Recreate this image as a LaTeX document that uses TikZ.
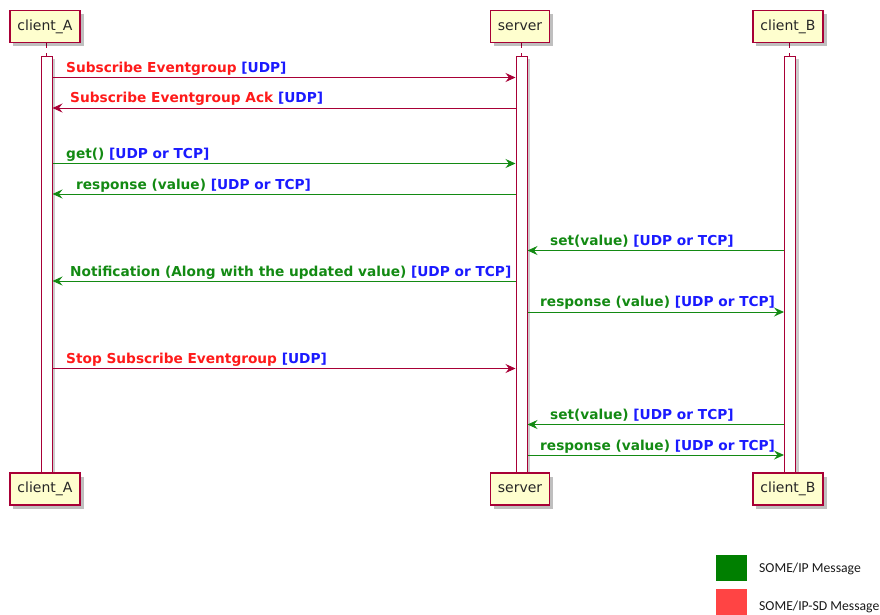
\documentclass[tikz,border=0pt]{standalone}
\usepackage{fontspec}
\setmainfont{DejaVu Sans}
\newfontfamily\legendfont{Carlito}
\usetikzlibrary{arrows.meta,shadows}
\definecolor{plborder}{HTML}{A80036}
\definecolor{plfill}{HTML}{FEFECE}
\definecolor{sdred}{HTML}{FF1A1A}
\definecolor{ipgreen}{HTML}{138A13}
\definecolor{protoblue}{HTML}{1A1AFF}
\definecolor{legendgreen}{HTML}{007F00}
\definecolor{legendred}{HTML}{FF4444}
\tikzset{
  participant/.style={draw=plborder, line width=1.3pt, fill=plfill, rectangle,
    minimum height=32pt, inner xsep=7.5pt, inner ysep=0pt,
    font=\fontsize{14pt}{16pt}\selectfont, text=black!85,
    drop shadow={shadow xshift=3.5pt, shadow yshift=-3.5pt, fill=black, opacity=0.25}},
  actbar/.style={draw=plborder, line width=1pt, fill=white, rectangle,
    minimum width=11pt, minimum height=417pt, inner sep=0pt, anchor=north,
    drop shadow={shadow xshift=3pt, shadow yshift=-3pt, fill=black, opacity=0.2}},
  lifeline/.style={draw=plborder, line width=0.8pt, dash pattern=on 5pt off 5pt},
  msgtip/.style={-{Stealth[length=10pt, width=9pt, inset=3.5pt]}},
  sdmsg/.style={draw=plborder, line width=1pt, msgtip},
  ipmsg/.style={draw=ipgreen, line width=1pt, msgtip},
  msglabel/.style={anchor=base west, inner sep=0pt, font=\fontsize{13.7pt}{15pt}\selectfont\bfseries},
  legendbox/.style={rectangle, minimum width=31pt, minimum height=26pt, inner sep=0pt, anchor=north west},
  legendtext/.style={anchor=base west, inner sep=0pt, font=\legendfont\fontsize{13.7pt}{15pt}\selectfont, text=black!90}
}
\newcommand{\sdtxt}[2]{\textcolor{sdred}{#1} \textcolor{protoblue}{#2}}
\newcommand{\iptxt}[2]{\textcolor{ipgreen}{#1} \textcolor{protoblue}{#2}}
\begin{document}
\begin{tikzpicture}[x=1pt, y=-1pt]
\useasboundingbox (0,0) rectangle (880,614);

% lifelines
\draw[lifeline] (46,43) -- (46,474);
\draw[lifeline] (521.5,43) -- (521.5,474);
\draw[lifeline] (789.5,43) -- (789.5,474);

% activation bars
\node[actbar] (barA) at (46.5,55.5) {};
\node[actbar] (barS) at (521.5,55.5) {};
\node[actbar] (barB) at (790,55.5) {};

% participants, top and bottom
\node[participant] (topA) at (45,26.5) {client\_A};
\node[participant] (topS) at (520,26.5) {server};
\node[participant] (topB) at (788,26.5) {client\_B};
\node[participant] (botA) at (45,489) {client\_A};
\node[participant] (botS) at (520,489) {server};
\node[participant] (botB) at (788,489) {client\_B};

% messages
\draw[sdmsg] (barA.east |- 0,77.5) -- (barS.west |- 0,77.5);
\node[msglabel] (m1) at (66,72.5) {\sdtxt{Subscribe Eventgroup}{[UDP]}};

\draw[sdmsg] (barS.west |- 0,108) -- (barA.east |- 0,108);
\node[msglabel] (m2) at (70,102.5) {\sdtxt{Subscribe Eventgroup Ack}{[UDP]}};

\draw[ipmsg] (barA.east |- 0,163.5) -- (barS.west |- 0,163.5);
\node[msglabel] (m3) at (66,158.5) {\iptxt{get()}{[UDP or TCP]}};

\draw[ipmsg] (barS.west |- 0,194) -- (barA.east |- 0,194);
\node[msglabel] (m4) at (76,189) {\iptxt{response (value)}{[UDP or TCP]}};

\draw[ipmsg] (barB.west |- 0,250.5) -- (barS.east |- 0,250.5);
\node[msglabel] (m5) at (550,245) {\iptxt{set(value)}{[UDP or TCP]}};

\draw[ipmsg] (barS.west |- 0,281) -- (barA.east |- 0,281);
\node[msglabel] (m6) at (70,276) {\iptxt{Notification (Along with the updated value)}{[UDP or TCP]}};

\draw[ipmsg] (barS.east |- 0,312) -- (barB.west |- 0,312);
\node[msglabel] (m7) at (540,306.5) {\iptxt{response (value)}{[UDP or TCP]}};

\draw[sdmsg] (barA.east |- 0,368.5) -- (barS.west |- 0,368.5);
\node[msglabel] (m8) at (66,363) {\sdtxt{Stop Subscribe Eventgroup}{[UDP]}};

\draw[ipmsg] (barB.west |- 0,424.5) -- (barS.east |- 0,424.5);
\node[msglabel] (m9) at (550,419) {\iptxt{set(value)}{[UDP or TCP]}};

\draw[ipmsg] (barS.east |- 0,455) -- (barB.west |- 0,455);
\node[msglabel] (m10) at (540,450) {\iptxt{response (value)}{[UDP or TCP]}};

% legend
\node[legendbox, fill=legendgreen] (lgIP) at (716,555) {};
\node[legendtext] (lgIPt) at (759,572) {SOME/IP Message};
\node[legendbox, fill=legendred] (lgSD) at (716,589) {};
\node[legendtext] (lgSDt) at (759,610) {SOME/IP-SD Message};
\end{tikzpicture}
\end{document}
